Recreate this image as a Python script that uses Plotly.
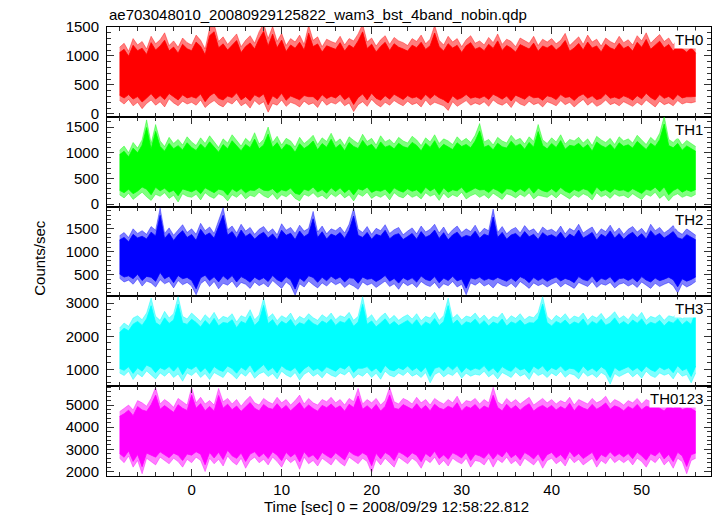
import plotly.graph_objects as go
from plotly.subplots import make_subplots

# ---- data (envelope of the light curves, 0.5 s resolution) ----
t_start = -8.0
t_step = 0.5
n_bins = 129
time = [t_start + i * t_step for i in range(n_bins)]

names = ["TH0", "TH1", "TH2", "TH3", "TH0123"]
colors = ["#ff0000", "#00ff00", "#0000ff", "#00ffff", "#ff00ff"]
fringe_colors = ["rgba(255,0,0,0.5)", "rgba(0,255,0,0.5)", "rgba(0,0,255,0.5)",
                 "rgba(0,255,255,0.5)", "rgba(255,0,255,0.5)"]

th0_hi = [1150,1220,1080,1300,1190,1250,1120,1340,1210,1280,1400,1180,1260,1150,1310,1230,
          1190,1360,1270,1120,1480,1550,1250,1330,1200,1290,1380,1160,1270,1350,1220,1420,
          1560,1300,1510,1250,1390,1180,1300,1240,1360,1200,1530,1270,1330,1160,1290,1250,
          1220,1340,1190,1300,1260,1380,1550,1240,1310,1170,1280,1350,1200,1320,1260,1230,
          1180,1300,1250,1360,1210,1290,1530,1270,1190,1340,1240,1300,1160,1280,1350,1220,
          1260,1190,1320,1230,1380,1200,1290,1250,1160,1310,1270,1220,1340,1180,1290,1240,
          1300,1210,1270,1390,1180,1250,1330,1200,1360,1240,1290,1170,1310,1250,1210,1340,
          1230,1280,1190,1350,1260,1400,1220,1300,1370,1250,1310,1190,1290,1230,1160,1250,
          1140]
th0_lo = [230,170,250,140,200,90,180,240,150,210,120,260,190,140,220,170,
          200,150,240,110,180,230,160,120,210,170,250,140,190,100,230,160,
          210,30,180,150,240,130,200,170,120,220,160,190,110,240,150,200,
          170,230,140,190,40,160,210,130,250,170,120,200,150,230,180,140,
          220,160,190,120,240,150,200,170,140,60,210,130,180,230,150,190,
          160,210,130,240,180,150,200,110,230,170,140,220,160,190,120,210,
          180,140,230,160,200,120,190,250,150,210,130,170,240,160,190,140,
          210,170,130,200,150,240,180,120,220,160,190,140,230,170,200,190,
          210]

th1_hi = [1050,1130,1000,1200,1090,1250,1640,1180,1550,1230,1120,1300,1180,1260,1150,1310,
          1210,1140,1290,1180,1330,1220,1100,1270,1190,1350,1240,1130,1280,1200,1390,1170,
          1260,1500,1200,1320,1150,1280,1230,1110,1300,1180,1250,1340,1160,1290,1220,1380,
          1200,1270,1140,1310,1240,1180,1360,1220,1280,1150,1330,1210,1260,1170,1300,1230,
          1190,1320,1250,1140,1290,1210,1350,1180,1270,1230,1160,1310,1220,1280,1200,1340,
          1570,1210,1260,1150,1300,1230,1190,1340,1240,1280,1170,1310,1220,1550,1250,1180,
          1290,1210,1350,1170,1260,1230,1300,1190,1270,1140,1320,1250,1200,1280,1160,1310,
          1230,1270,1190,1340,1250,1160,1300,1220,1380,1710,1260,1200,1290,1150,1240,1180,
          1120]
th1_lo = [180,120,210,90,160,230,140,70,190,150,220,110,170,40,200,150,
          130,190,80,220,150,110,200,160,60,180,130,210,100,170,140,230,
          160,120,200,90,180,140,210,110,60,190,150,220,130,170,100,200,
          140,210,120,180,60,200,150,230,110,170,130,190,80,220,150,120,
          200,130,170,100,220,150,190,70,210,120,180,140,230,100,160,200,
          130,180,110,210,150,90,200,170,120,190,140,220,100,170,150,130,
          190,120,210,150,100,180,130,200,160,80,220,140,180,110,200,150,
          170,120,200,140,90,190,150,230,110,180,60,160,200,130,170,140,
          190]

th2_hi = [1350,1420,1310,1500,1400,1460,1380,1550,1470,1950,1400,1520,1360,1480,1590,1420,
          1500,1380,1620,1460,1540,1400,1700,1960,1480,1560,1410,1600,1450,1530,1380,1490,
          1550,1420,1500,1370,1610,1470,1530,1400,1580,1450,1510,1880,1430,1560,1390,1500,
          1460,1540,1410,1600,1950,1490,1420,1550,1380,1510,1460,1590,1400,1480,1530,1370,
          1450,1520,1390,1560,1430,1490,1600,1410,1540,1370,1480,1560,1420,1500,1440,1580,
          1400,1510,1460,1930,1420,1550,1390,1480,1530,1410,1570,1450,1500,1380,1540,1460,
          1490,1420,1560,1390,1510,1450,1600,1410,1480,1540,1370,1500,1440,1580,1420,1520,
          1380,1490,1550,1430,1510,1390,1600,1460,1530,1410,1480,1570,1440,1380,1500,1430,
          1360]
th2_lo = [420,340,380,290,410,250,360,320,230,390,300,350,210,370,280,330,
          250,60,300,380,240,350,190,310,270,360,220,330,290,200,340,260,
          310,230,370,280,200,340,260,50,300,230,360,280,210,320,250,350,
          280,330,220,300,250,180,340,270,310,220,290,360,240,300,180,330,
          260,310,220,350,280,240,330,200,300,260,350,230,290,60,320,270,
          340,250,300,210,330,270,240,310,220,350,280,200,320,260,300,230,
          290,340,230,310,260,200,330,280,240,350,220,300,270,330,210,290,
          320,250,300,220,340,270,200,310,240,290,330,260,100,300,230,280,
          350]

th3_hi = [2250,2400,2300,2550,2620,2500,2700,3150,2600,2480,2750,2550,2680,3200,2600,2520,
          2700,2580,2450,2650,2520,2720,2480,2600,2550,2680,2430,2620,2560,2800,2500,2640,
          3150,2560,2680,2470,2620,2540,2700,2450,2600,2520,2680,2560,2480,2650,2550,2700,
          2500,2620,2570,2720,2480,2600,3200,2520,2650,2440,2590,2700,2510,2630,2480,2580,
          2650,2520,2680,2470,2600,2550,2720,2480,2620,3150,2540,2660,2490,2610,2570,2700,
          2520,2640,2480,2600,2550,2700,2470,2620,2540,2680,2500,2600,2560,2720,3200,2590,
          2470,2630,2540,2680,2500,2610,2560,2700,2480,2620,2550,2690,2500,2600,2740,2530,
          2620,2500,2680,2560,2720,2480,2600,2550,2650,2480,2620,2580,2700,2520,2640,2550,
          2950]
th3_lo = [900,820,950,700,880,780,960,840,720,900,800,930,760,870,650,900,
          820,940,760,880,700,910,830,760,950,850,720,900,800,960,740,870,
          930,790,880,720,950,840,770,910,680,860,940,800,880,750,920,830,
          780,900,840,960,740,870,800,930,760,890,710,950,830,780,900,820,
          940,800,870,760,910,600,850,930,780,880,820,950,740,890,800,860,
          830,950,780,880,720,910,840,760,930,800,870,700,940,820,880,760,
          900,810,950,770,880,840,720,930,800,870,760,910,830,560,880,790,
          860,930,780,890,740,950,820,760,900,830,880,720,940,800,850,600,
          900]

th0123_hi = [4700,4850,5000,4780,5200,5100,4950,5300,5800,5050,5250,5100,4900,5300,5150,5000,
             5800,5100,5350,5050,5200,5000,5750,5150,5300,5050,5250,4950,5200,5400,5100,5000,
             5300,5150,5050,5350,5100,5250,5000,5200,5450,5050,5300,5100,5000,5250,5150,5350,
             5100,5250,5000,5300,5150,5750,5050,5250,5100,5300,5000,5200,5800,5150,5050,5300,
             5200,5050,5350,5100,5250,5000,5300,5150,5050,5250,5100,5400,5000,5200,5150,5300,
             5050,5250,5100,5800,5150,5000,5300,5100,5250,5050,5200,5350,5000,5150,5300,5100,
             5250,5050,5200,5100,5350,5000,5250,5150,5050,5300,5100,5200,5400,5050,5250,5150,
             5000,5200,5100,5300,5050,5250,5150,5450,5100,5000,5250,5150,5300,5050,5200,5100,
             4950]
th0123_lo = [2600,2400,2700,2200,2500,1900,2600,2450,2300,2650,2500,2350,2600,2450,2200,2550,
             2400,2650,2500,2000,2600,2350,2550,2250,2700,2450,2300,2600,2150,2500,2650,2400,
             2550,2300,2650,2450,2200,2600,2400,2550,2100,2650,2350,2500,2250,2600,2450,2300,
             2600,2400,2250,2650,2500,2350,2600,2450,1950,2550,2300,2600,2400,2200,2650,2500,
             2350,2600,2450,2150,2550,2400,2650,2300,2500,2250,2600,2450,2350,2600,2200,2500,
             2450,2300,2600,2200,2550,2400,2650,2350,2500,2250,2600,2450,2300,2550,2150,2500,
             2600,2350,2500,2250,2650,2400,2550,2300,2450,2600,2200,2500,2350,2650,2400,2550,
             2400,2550,2300,2600,2450,2200,2550,2400,2650,2300,2500,2150,2600,2450,1900,2500,
             2600]

his = [th0_hi, th1_hi, th2_hi, th3_hi, th0123_hi]
los = [th0_lo, th1_lo, th2_lo, th3_lo, th0123_lo]

y_ranges = [[-50, 1500], [-50, 1700], [25, 1985], [500, 3200], [1800, 5850]]
y_dticks = [500, 500, 500, 1000, 1000]
y_minor = [100, 100, 100, 200, 200]

x_range = [-9.4, 57.7]
title_text = "ae703048010_20080929125822_wam3_bst_4band_nobin.qdp"
x_title = "Time [sec] 0 = 2008/09/29 12:58:22.812"
y_title = "Counts/sec"

FONT = "Liberation Sans, Arial, Helvetica, sans-serif"
SOLID_FRACTION = 0.8   # inner part of each bin's range drawn fully saturated

fig = make_subplots(rows=5, cols=1, shared_xaxes=True, vertical_spacing=0)

for i in range(5):
    r = i + 1
    hi, lo = his[i], los[i]
    mid = [(a + b) / 2 for a, b in zip(hi, lo)]
    in_hi = [m + SOLID_FRACTION * (a - m) for a, m in zip(hi, mid)]
    in_lo = [m + SOLID_FRACTION * (b - m) for b, m in zip(lo, mid)]
    # light outer fringe: full min..max range of each bin
    fig.add_trace(go.Scatter(x=time, y=hi, mode="lines",
                             line=dict(color=fringe_colors[i], width=0.8),
                             hoverinfo="skip", showlegend=False), row=r, col=1)
    fig.add_trace(go.Scatter(x=time, y=lo, mode="lines",
                             line=dict(color=fringe_colors[i], width=0.8),
                             fill="tonexty", fillcolor=fringe_colors[i],
                             hoverinfo="skip", showlegend=False), row=r, col=1)
    # saturated body
    fig.add_trace(go.Scatter(x=time, y=in_hi, mode="lines",
                             line=dict(color=colors[i], width=0.8),
                             hoverinfo="skip", showlegend=False), row=r, col=1)
    fig.add_trace(go.Scatter(x=time, y=in_lo, mode="lines",
                             line=dict(color=colors[i], width=0.8),
                             fill="tonexty", fillcolor=colors[i],
                             hoverinfo="skip", showlegend=False), row=r, col=1)
    fig.update_yaxes(row=r, col=1, range=y_ranges[i], dtick=y_dticks[i], tick0=0,
                     ticks="inside", ticklen=7, tickcolor="#333333",
                     ticklabelstandoff=4,
                     minor=dict(dtick=y_minor[i], tick0=0, ticks="inside", ticklen=4,
                                tickcolor="#333333"),
                     mirror="allticks", showline=True, linecolor="black", linewidth=1,
                     showgrid=False, zeroline=False,
                     tickfont=dict(family=FONT, size=15, color="black"))
    fig.update_xaxes(row=r, col=1, range=x_range, dtick=10, tick0=0,
                     ticks="inside", ticklen=7, tickcolor="#333333",
                     minor=dict(dtick=2, tick0=0, ticks="inside", ticklen=4,
                                tickcolor="#333333"),
                     mirror="allticks", showline=True, linecolor="black", linewidth=1,
                     showgrid=False, zeroline=False, showticklabels=(r == 5),
                     tickfont=dict(family=FONT, size=15, color="black"))
    dom_top = 1 - i * 0.2
    fig.add_annotation(text=names[i], xref="paper", yref="paper",
                       x=0.988, y=dom_top, xanchor="right", yanchor="top", yshift=-3,
                       showarrow=False, bgcolor="white", borderpad=0,
                       font=dict(family=FONT, size=15, color="black"))

fig.add_annotation(text=title_text, xref="paper", yref="paper", x=0.0, y=1.027,
                   xanchor="left", yanchor="middle", showarrow=False,
                   font=dict(family=FONT, size=15, color="black"))
fig.add_annotation(text=x_title, xref="paper", yref="paper", x=0.48, y=-0.068,
                   xanchor="center", yanchor="middle", showarrow=False,
                   font=dict(family=FONT, size=15, color="black"))
fig.add_annotation(text=y_title, xref="paper", yref="paper", x=-0.111, y=0.486,
                   xanchor="center", yanchor="middle", textangle=-90, showarrow=False,
                   font=dict(family=FONT, size=15, color="black"))

fig.update_layout(width=717, height=516,
                  margin=dict(l=107, r=6, t=27, b=40),
                  paper_bgcolor="white", plot_bgcolor="white",
                  showlegend=False)

fig.write_html("out.html", config={"displayModeBar": False},
               post_script="document.body.style.margin='0';")
